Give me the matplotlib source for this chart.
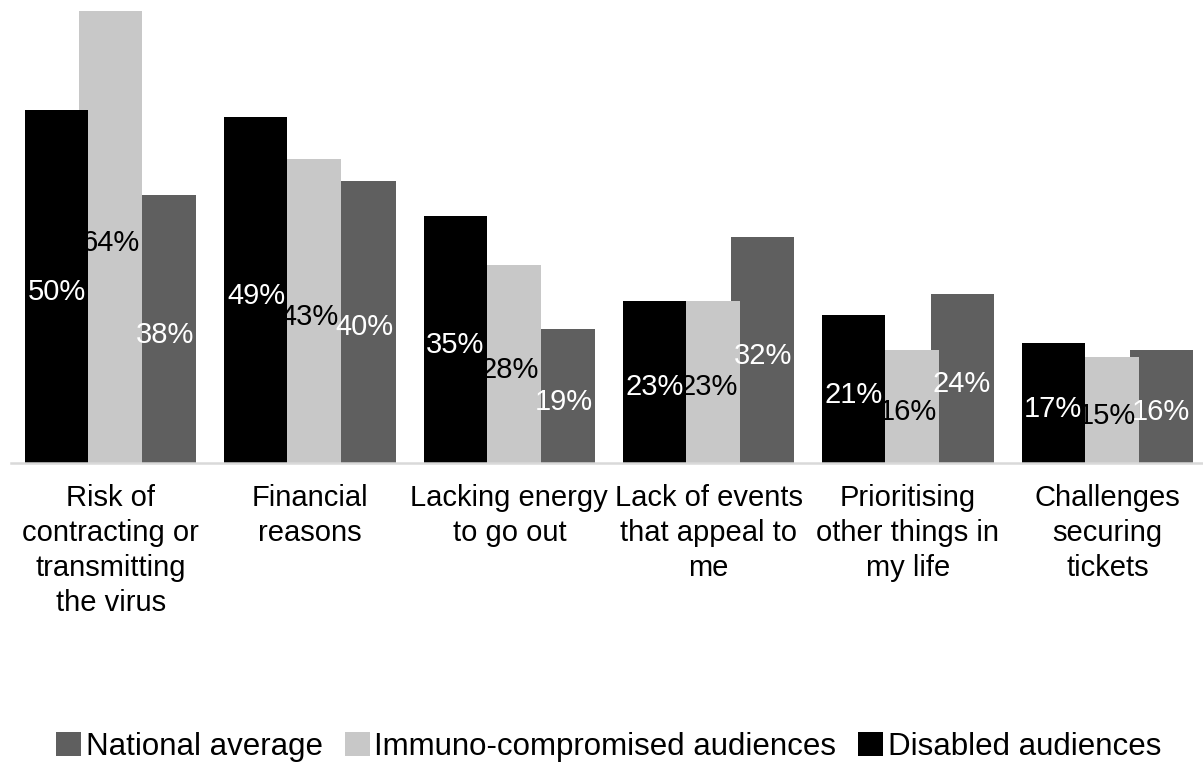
import matplotlib
matplotlib.use("Agg")
import matplotlib.pyplot as plt
from matplotlib.patches import Patch
import numpy as np

plt.rcParams['font.family'] = ['Liberation Sans', 'DejaVu Sans']

# chart data
categories = [
    "Risk of\ncontracting or\ntransmitting\nthe virus",
    "Financial\nreasons",
    "Lacking energy\nto go out",
    "Lack of events\nthat appeal to\nme",
    "Prioritising\nother things in\nmy life",
    "Challenges\nsecuring\ntickets",
]
disabled = [50, 49, 35, 23, 21, 17]
immuno = [64, 43, 28, 23, 16, 15]
national = [38, 40, 19, 32, 24, 16]

series_names = ["Disabled audiences", "Immuno-compromised audiences", "National average"]
colors = ["#000000", "#c8c8c8", "#5f5f5f"]
text_colors = ["white", "black", "white"]

fig = plt.figure(figsize=(12.03, 7.62), dpi=100)
ax = fig.add_axes([11 / 1203, 299 / 762, 1196 / 1203, 463 / 762])

x = np.arange(len(categories))
width = 0.316
offsets = [-0.271, 0.0, 0.271]
series = [disabled, immuno, national]

# draw back to front so the black bar sits on top
for i in [2, 1, 0]:
    ax.bar(x + offsets[i], series[i], width, color=colors[i], zorder=2 + (2 - i))

# value labels on top of everything
for i in range(3):
    for xi, v in zip(x, series[i]):
        ax.text(xi + offsets[i], v / 2 - 0.8, f"{v}%", ha="center", va="center",
                fontsize=21, color=text_colors[i], zorder=10)

ax.set_xlim(-0.5, 5.5)
ax.set_ylim(0, 463 / 7.06)
ax.axhline(0, color="#d9d9d9", lw=1.8, zorder=6, clip_on=False)

for s in ax.spines.values():
    s.set_visible(False)
ax.set_yticks([])
ax.set_xticks(x)
ax.set_xticklabels(categories, fontsize=21, linespacing=1.32)
ax.tick_params(axis="x", length=0, pad=15)

handles = [Patch(facecolor=colors[i]) for i in [2, 1, 0]]
labels = [series_names[i] for i in [2, 1, 0]]
fig.legend(handles, labels, loc="center", bbox_to_anchor=(0.506, 0.02), ncol=3,
           frameon=False, fontsize=22.5, handlelength=0.8, handleheight=0.8,
           handletextpad=0.15, columnspacing=0.7, borderaxespad=0)

fig.savefig("out.png", dpi=100)
